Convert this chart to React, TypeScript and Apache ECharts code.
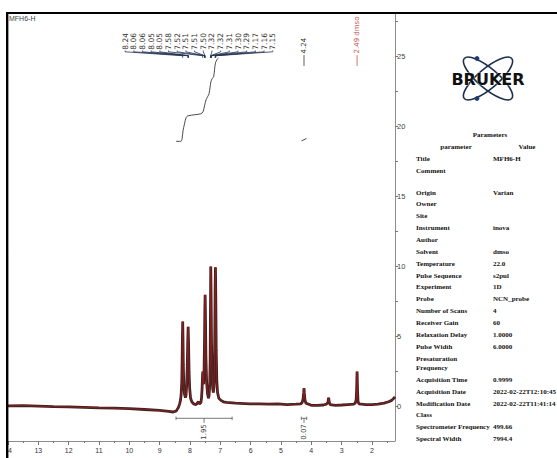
import { useEffect, useRef } from 'react';
import * as echarts from 'echarts';

// ---------------- data ----------------
const TITLE = 'MFH6-H';

// 1H spectrum trace: [ppm, intensity]
const SPECTRUM: [number, number][] = [
  [14.0, 0.05], [13.5, 0.08], [13.0, 0.04], [12.5, 0.0], [12.0, -0.02], [11.5, -0.05], [11.0, -0.08],
  [10.5, -0.1], [10.0, -0.14], [9.5, -0.2], [9.0, -0.27], [8.7, -0.33], [8.55, -0.38], [8.45, -0.3],
  [8.38, -0.05], [8.34, 0.2],
  [8.31, 0.5], [8.29, 0.9], [8.27, 1.8], [8.26, 3.0], [8.25, 4.8], [8.24, 6.07], [8.23, 4.8], [8.22, 3.0],
  [8.205, 1.6], [8.18, 0.9], [8.15, 0.65],
  [8.13, 0.8], [8.11, 1.5], [8.09, 2.8], [8.075, 4.5], [8.06, 5.7], [8.045, 4.3], [8.03, 2.5], [8.01, 1.3],
  [7.98, 0.6], [7.94, 0.35],
  [7.88, 0.2], [7.8, 0.15], [7.74, 0.3], [7.72, 0.35], [7.69, 0.2], [7.64, 0.3],
  [7.62, 0.6], [7.6, 1.3], [7.585, 2.3], [7.575, 2.5], [7.565, 2.0], [7.55, 1.6],
  [7.535, 2.6], [7.52, 4.8], [7.51, 6.8], [7.5, 7.98], [7.49, 6.6], [7.475, 3.6], [7.45, 1.7], [7.42, 0.9], [7.39, 0.6],
  [7.37, 0.8], [7.35, 1.5], [7.335, 3.2], [7.325, 6.5], [7.315, 10.0], [7.305, 8.2], [7.29, 4.5], [7.27, 2.2],
  [7.25, 1.3], [7.23, 1.0],
  [7.21, 1.4], [7.195, 2.5], [7.18, 5.5], [7.17, 8.5], [7.16, 9.95], [7.15, 8.0], [7.135, 4.0], [7.115, 1.8],
  [7.09, 1.0], [7.05, 0.6], [6.98, 0.45], [6.9, 0.35],
  [6.8, 0.3], [6.5, 0.25], [6.2, 0.22], [6.0, 0.2], [5.7, 0.2], [5.4, 0.18], [5.1, 0.2], [4.8, 0.15], [4.5, 0.18], [4.35, 0.2],
  [4.3, 0.3], [4.27, 0.55], [4.25, 1.0], [4.24, 1.33], [4.23, 1.0], [4.21, 0.5], [4.18, 0.25],
  [4.0, 0.1], [3.8, 0.1], [3.6, 0.12], [3.5, 0.18],
  [3.45, 0.3], [3.43, 0.64], [3.41, 0.35], [3.38, 0.15],
  [3.2, 0.1], [3.0, 0.12], [2.8, 0.15], [2.6, 0.18], [2.55, 0.25],
  [2.52, 0.5], [2.505, 1.2], [2.495, 2.1], [2.49, 2.5], [2.485, 2.1], [2.475, 1.1], [2.46, 0.4], [2.43, 0.2],
  [2.2, 0.15], [2.0, 0.15], [1.8, 0.18], [1.6, 0.25], [1.45, 0.35], [1.35, 0.45], [1.28, 0.6], [1.24, 0.7],
];

// integral curve (aromatic region) [ppm, value]
const INTEGRAL_CURVE: [number, number][] = [
  [8.46, 18.94], [8.3, 18.94], [8.26, 19.12], [8.23, 19.69], [8.18, 20.19], [8.13, 20.62], [8.07, 20.76],
  [7.83, 20.84], [7.64, 20.91], [7.57, 21.05], [7.52, 21.48], [7.47, 21.91], [7.42, 22.12], [7.37, 22.34],
  [7.34, 22.76], [7.31, 23.19], [7.27, 23.41], [7.22, 23.55], [7.19, 24.05], [7.16, 24.55], [7.11, 24.76], [7.06, 24.91],
];
const INTEGRAL_CURVE_SMALL: [number, number][] = [[4.32, 18.98], [4.24, 19.05], [4.16, 19.15]];

// integration regions
const INTEGRAL_FROM = [8.46, 4.33];
const INTEGRAL_TO = [6.61, 4.15];
const INTEGRAL_VALUES = ['1.95', '0.07'];

// peak-picking labels
const CLUSTER_LABELS = ['8.24', '8.06', '8.06', '8.05', '8.05', '7.58', '7.52', '7.51', '7.51', '7.50',
  '7.32', '7.32', '7.31', '7.30', '7.29', '7.17', '7.16', '7.15'];
const SINGLE_LABEL_PPM = [4.24, 2.49];
const SINGLE_LABEL_TEXT = ['4.24', '2.49 dmso'];

// axes
const X_LABELS = [2, 3, 4, 5, 6, 7, 8, 9, 10, 11, 12, 13, 14];
const X_MINOR = [1.5, 2.5, 3.5, 4.5, 5.5, 6.5, 7.5, 8.5, 9.5, 10.5, 11.5, 12.5, 13.5];
const Y_LABELS = [0, 5, 10, 15, 20, 25];
const Y_TICKS = [0, 2.5, 5, 7.5, 10, 12.5, 15, 17.5, 20, 22.5, 25, 27.5];

// parameters table
const PARAM_NAMES = ['Title', 'Comment', '', 'Origin', 'Owner', 'Site', 'Instrument', 'Author', 'Solvent',
  'Temperature', 'Pulse Sequence', 'Experiment', 'Probe', 'Number of Scans', 'Receiver Gain',
  'Relaxation Delay', 'Pulse Width', 'Presaturation\nFrequency', 'Acquisition Time', 'Acquisition Date',
  'Modification Date', 'Class', 'Spectrometer Frequency', 'Spectral Width'];
const PARAM_VALUES = ['MFH6-H', '', '', 'Varian', '', '', 'inova', '', 'dmso', '22.0', 's2pul', '1D',
  'NCN_probe', '4', '60', '1.0000', '6.0000', '', '0.9999', '2022-02-22T12:10:45', '2022-02-22T11:41:14',
  '', '499.66', '7994.4'];

// ---------------- layout / style constants ----------------
const X_MIN = 1.24, X_MAX = 14, Y_MIN = -2.45, Y_MAX = 28.1;
const FAN_FIRST = 10.14, FAN_LAST = 5.27;
const FAN_TEXT_BASE = 25.48, FAN_KNEE = 25.33, FAN_PEAK_TOP = 25.05, FAN_PEAK_END = 24.9;
const SINGLE_TEXT_BASE = 25.21, SINGLE_LINE_TOP = 25.1, SINGLE_LINE_END = 24.32;
const SINGLE_COLORS = ['#333333', '#c9544f'];
const BAR_Y = -0.83, BAR_TICK = 0.12, BAR_CENTER_END = -1.15, BAR_LABEL_Y = -1.25;
const TABLE_FONT = 'bold 7px "Liberation Serif"';

function buildGraphics() {
  const g: any[] = [];
  // title
  g.push({ type: 'text', x: 9, y: 18, style: { text: TITLE, font: '7px "Liberation Sans"', fill: '#444', verticalAlign: 'middle' } });
  // Bruker logo
  const cx = 488, cy = 78.5;
  [0.7, -0.7].forEach((rot) => {
    g.push({ type: 'ellipse', x: cx, y: cy, rotation: rot, shape: { cx: 0, cy: 0, rx: 31, ry: 10 },
      style: { fill: 'none', stroke: '#1f2f4f', lineWidth: 1.6 } });
  });
  g.push({ type: 'circle', shape: { cx: 477, cy: 58.5, r: 2.4 }, style: { fill: '#1f3a6f' } });
  g.push({ type: 'circle', shape: { cx: 477, cy: 98.5, r: 2.4 }, style: { fill: '#1f3a6f' } });
  g.push({ type: 'text', x: cx, y: cy + 1, style: { text: 'BRUKER', font: 'bold 16px "DejaVu Sans"', fill: '#111',
    align: 'center', verticalAlign: 'middle', stroke: '#fff', lineWidth: 0.5 } });
  // table headers
  g.push({ type: 'text', x: 490, y: 135, style: { text: 'Parameters', font: TABLE_FONT, fill: '#111', align: 'center', verticalAlign: 'middle' } });
  g.push({ type: 'text', x: 456, y: 147, style: { text: 'parameter', font: TABLE_FONT, fill: '#111', align: 'center', verticalAlign: 'middle' } });
  g.push({ type: 'text', x: 527, y: 147, style: { text: 'Value', font: TABLE_FONT, fill: '#111', align: 'center', verticalAlign: 'middle' } });
  // rows
  let rowY = 159;
  const step = 11.87, lineH = 9.3;
  PARAM_NAMES.forEach((name, i) => {
    if (name === '') { rowY += 9.8; return; }
    const lines = name.split('\n').length;
    g.push({ type: 'text', x: 416, y: rowY - lineH / 2, style: { text: name, font: TABLE_FONT, fill: '#111', verticalAlign: 'top', lineHeight: lineH } });
    if (PARAM_VALUES[i]) {
      g.push({ type: 'text', x: 493, y: rowY - lineH / 2, style: { text: PARAM_VALUES[i], font: TABLE_FONT, fill: '#111', verticalAlign: 'top', lineHeight: lineH } });
    }
    rowY += step + (lines - 1) * lineH;
  });
  // frame (cropped screenshot edges)
  g.push({ type: 'rect', z: 100, shape: { x: 0, y: 0, width: 6, height: 458 }, style: { fill: '#fff' } });
  g.push({ type: 'rect', z: 101, shape: { x: 6, y: 12, width: 2.4, height: 446 }, style: { fill: '#000' } });
  g.push({ type: 'rect', z: 101, shape: { x: 6, y: 12, width: 551, height: 2 }, style: { fill: '#000' } });
  return g;
}

function buildOption() {
  const n = CLUSTER_LABELS.length;
  const fanStep = (FAN_FIRST - FAN_LAST) / (n - 1);
  const axisGray = '#8c8c8c';
  return {
    animation: false,
    backgroundColor: '#fff',
    grid: { left: 8, right: 162, top: 13, bottom: 17, outerBoundsMode: 'none', containLabel: false },
    xAxis: [
      {
        type: 'value', min: X_MIN, max: X_MAX, inverse: true,
        axisLine: { show: true, onZero: false, lineStyle: { color: axisGray, width: 1 } },
        axisTick: { show: true, length: 4, customValues: X_LABELS, lineStyle: { color: '#777' } },
        axisLabel: { customValues: X_LABELS, fontSize: 7, color: '#333', margin: 6, fontFamily: 'Liberation Sans' },
        splitLine: { show: false },
        name: 'f1 (ppm)', nameLocation: 'middle', nameGap: 17,
        nameTextStyle: { fontSize: 7, color: '#333', fontFamily: 'Liberation Sans' },
      },
      {
        type: 'value', min: X_MIN, max: X_MAX, inverse: true, position: 'bottom',
        axisLine: { show: false, onZero: false },
        axisTick: { show: true, length: 2, customValues: X_MINOR, lineStyle: { color: '#777' } },
        axisLabel: { show: false }, splitLine: { show: false },
      },
    ],
    yAxis: {
      type: 'value', position: 'right', min: Y_MIN, max: Y_MAX,
      axisLine: { show: true, onZero: false, lineStyle: { color: axisGray, width: 1 } },
      axisTick: { show: true, length: 3, customValues: Y_TICKS, lineStyle: { color: '#777' } },
      axisLabel: { customValues: Y_LABELS, fontSize: 7.5, color: '#444', margin: 2, fontFamily: 'Liberation Sans' },
      splitLine: { show: false },
    },
    graphic: buildGraphics(),
    series: [
      {
        type: 'line', name: 'spectrum-outline', data: SPECTRUM, showSymbol: false, silent: true,
        lineStyle: { color: '#3a2424', width: 2.8 }, z: 2,
      },
      {
        type: 'line', name: 'spectrum', data: SPECTRUM, showSymbol: false, silent: true,
        lineStyle: { color: '#9a1c1c', width: 0.9 }, z: 3,
      },
      {
        type: 'line', name: 'integral', data: INTEGRAL_CURVE, showSymbol: false, silent: true, smooth: 0.3,
        lineStyle: { color: '#4a4a4a', width: 1 },
      },
      {
        type: 'line', name: 'integral-small', data: INTEGRAL_CURVE_SMALL, showSymbol: false, silent: true,
        lineStyle: { color: '#4a4a4a', width: 1 },
      },
      {
        type: 'custom', name: 'peak-labels', coordinateSystem: 'cartesian2d', silent: true, clip: false,
        data: CLUSTER_LABELS.map((t, i) => [parseFloat(t), i]),
        renderItem: (params: any, api: any) => {
          const i = params.dataIndex;
          const ppm = api.value(0);
          const lp = FAN_FIRST - i * fanStep;
          const [xl, yt] = api.coord([lp, FAN_TEXT_BASE]);
          const [, yk] = api.coord([lp, FAN_KNEE]);
          const [xp, yp] = api.coord([ppm, FAN_PEAK_TOP]);
          const [, ye] = api.coord([ppm, FAN_PEAK_END]);
          return {
            type: 'group',
            children: [
              { type: 'text', x: xl, y: yt, rotation: Math.PI / 2,
                style: { text: CLUSTER_LABELS[i], font: '7.5px "DejaVu Sans"', fill: '#333', align: 'left', verticalAlign: 'middle' } },
              { type: 'polyline', shape: { points: [[xl, yt + 0.8], [xl, yk], [xp, yp], [xp, ye]] },
                style: { stroke: '#233252', lineWidth: 0.8, fill: 'none' } },
            ],
          };
        },
      },
      {
        type: 'custom', name: 'single-labels', coordinateSystem: 'cartesian2d', silent: true, clip: false,
        data: SINGLE_LABEL_PPM.map((p, i) => [p, i]),
        renderItem: (params: any, api: any) => {
          const i = params.dataIndex;
          const ppm = api.value(0);
          const [x, yt] = api.coord([ppm, SINGLE_TEXT_BASE]);
          const [, y1] = api.coord([ppm, SINGLE_LINE_TOP]);
          const [, y2] = api.coord([ppm, SINGLE_LINE_END]);
          const c = SINGLE_COLORS[i];
          return {
            type: 'group',
            children: [
              { type: 'text', x, y: yt, rotation: Math.PI / 2,
                style: { text: SINGLE_LABEL_TEXT[i], font: '7px "DejaVu Sans"', fill: c, align: 'left', verticalAlign: 'middle' } },
              { type: 'line', shape: { x1: x, y1, x2: x, y2 }, style: { stroke: c, lineWidth: 0.8 } },
            ],
          };
        },
      },
      {
        type: 'custom', name: 'integrations', coordinateSystem: 'cartesian2d', silent: true, clip: false,
        data: INTEGRAL_FROM.map((f, i) => [f, i]),
        renderItem: (params: any, api: any) => {
          const i = params.dataIndex;
          const from = INTEGRAL_FROM[i], to = INTEGRAL_TO[i];
          const mid = (from + to) / 2;
          const [x1, yb] = api.coord([from, BAR_Y]);
          const [x2] = api.coord([to, BAR_Y]);
          const [, ytTop] = api.coord([from, BAR_Y + BAR_TICK]);
          const [, ytBot] = api.coord([from, BAR_Y - BAR_TICK]);
          const [xm, ymEnd] = api.coord([mid, BAR_CENTER_END]);
          const [, yl] = api.coord([mid, BAR_LABEL_Y]);
          const st = { stroke: '#555', lineWidth: 0.8 };
          return {
            type: 'group',
            children: [
              { type: 'line', shape: { x1, y1: yb, x2, y2: yb }, style: st },
              { type: 'line', shape: { x1, y1: ytTop, x2: x1, y2: ytBot }, style: st },
              { type: 'line', shape: { x1: x2, y1: ytTop, x2, y2: ytBot }, style: st },
              { type: 'line', shape: { x1: xm, y1: yb, x2: xm, y2: ymEnd }, style: st },
              { type: 'text', x: xm, y: yl, rotation: Math.PI / 2,
                style: { text: INTEGRAL_VALUES[i], font: '7px "DejaVu Sans"', fill: '#444', align: 'right', verticalAlign: 'middle' } },
            ],
          };
        },
      },
    ],
  };
}

export default function App() {
  const ref = useRef<HTMLDivElement>(null);
  useEffect(() => {
    const el = ref.current;
    if (!el) return;
    const chart = echarts.init(el, undefined, { renderer: 'svg' });
    chart.setOption(buildOption() as any);
    return () => chart.dispose();
  }, []);
  return (
    <div
      ref={ref}
      style={{ position: 'fixed', left: 0, top: 0, width: 557, height: 458, background: '#fff' }}
    />
  );
}
